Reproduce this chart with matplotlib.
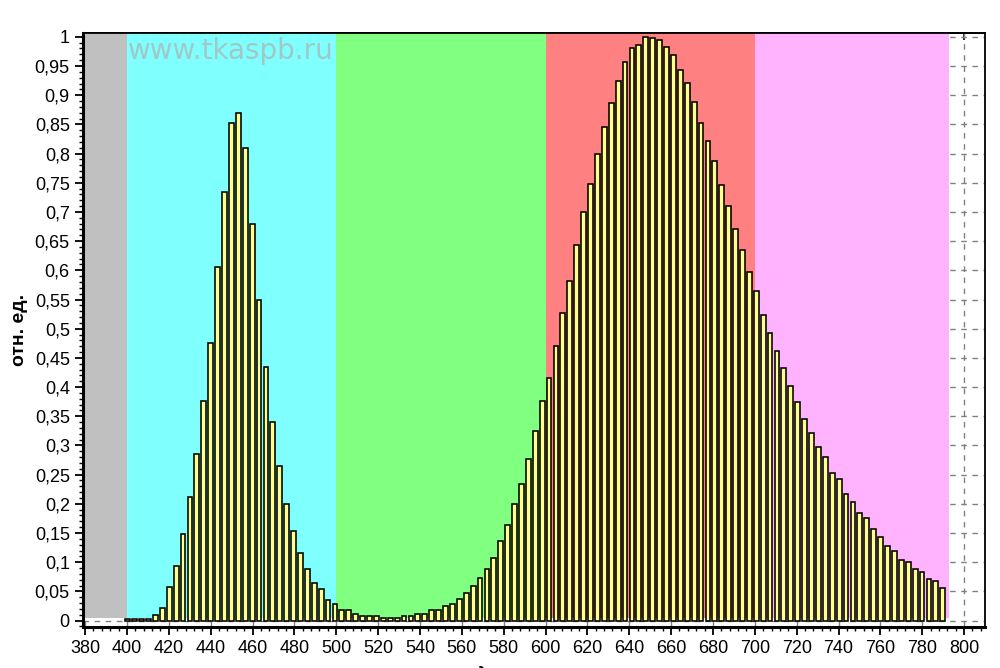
import matplotlib
matplotlib.use('Agg')
import matplotlib.pyplot as plt
from matplotlib.ticker import MultipleLocator, FuncFormatter, NullLocator

# wavelength of each bar, nm
wavelengths = [
    400.4, 403.7, 407.0, 410.3, 413.6, 416.9, 420.2, 423.5, 426.8, 430.1,
    433.4, 436.7, 440.0, 443.3, 446.6, 449.9, 453.2, 456.5, 459.8, 463.1,
    466.4, 469.7, 473.0, 476.3, 479.6, 482.9, 486.2, 489.5, 492.8, 496.1,
    499.4, 502.7, 506.0, 509.3, 512.6, 515.9, 519.2, 522.5, 525.8, 529.1,
    532.4, 535.7, 539.0, 542.3, 545.6, 548.9, 552.2, 555.5, 558.8, 562.1,
    565.4, 568.7, 572.0, 575.3, 578.6, 581.9, 585.2, 588.5, 591.8, 595.1,
    598.4, 601.7, 605.0, 608.3, 611.6, 614.9, 618.2, 621.5, 624.8, 628.1,
    631.4, 634.7, 638.0, 641.3, 644.6, 647.9, 651.2, 654.5, 657.8, 661.1,
    664.4, 667.7, 671.0, 674.3, 677.6, 680.9, 684.2, 687.5, 690.8, 694.1,
    697.4, 700.7, 704.0, 707.3, 710.6, 713.9, 717.2, 720.5, 723.8, 727.1,
    730.4, 733.7, 737.0, 740.3, 743.6, 746.9, 750.2, 753.5, 756.8, 760.1,
    763.4, 766.7, 770.0, 773.3, 776.6, 779.9, 783.2, 786.5, 789.8,
]

# relative intensity
intensity = [
    0.002, 0.002, 0.002, 0.003, 0.010, 0.022, 0.057, 0.093, 0.148, 0.212,
    0.286, 0.376, 0.476, 0.605, 0.734, 0.853, 0.870, 0.810, 0.679, 0.550,
    0.434, 0.340, 0.264, 0.199, 0.154, 0.116, 0.089, 0.064, 0.054, 0.035,
    0.028, 0.018, 0.018, 0.011, 0.007, 0.007, 0.007, 0.005, 0.005, 0.005,
    0.007, 0.007, 0.011, 0.011, 0.018, 0.018, 0.025, 0.029, 0.037, 0.047,
    0.060, 0.073, 0.088, 0.108, 0.137, 0.164, 0.199, 0.234, 0.276, 0.324,
    0.376, 0.416, 0.471, 0.527, 0.581, 0.644, 0.700, 0.748, 0.800, 0.845,
    0.886, 0.925, 0.957, 0.980, 0.986, 1.000, 0.998, 0.995, 0.983, 0.969,
    0.944, 0.921, 0.889, 0.853, 0.821, 0.787, 0.746, 0.711, 0.671, 0.635,
    0.597, 0.564, 0.524, 0.493, 0.461, 0.433, 0.401, 0.374, 0.345, 0.322,
    0.297, 0.280, 0.252, 0.243, 0.217, 0.203, 0.184, 0.175, 0.156, 0.143,
    0.127, 0.120, 0.104, 0.100, 0.089, 0.084, 0.072, 0.068, 0.056,
]

# colour bands: edges and colours
band_edges = [379, 400, 500, 600, 700, 792.8]
band_colors = ['#c0c0c0', '#80ffff', '#80ff80', '#ff8080', '#ffb3ff']

plt.rcParams['font.family'] = ['Liberation Sans', 'DejaVu Sans']

fig = plt.figure(figsize=(10, 6.68), dpi=100)
ax = fig.add_axes([0.083, 0.0614, 0.902, 0.8896])

ax.set_xlim(379, 810)
ax.set_ylim(-0.011, 1.007)

# dashed grid, lies under the colour bands
ax.set_axisbelow(True)
ax.grid(True, which='major', color='#808080', linestyle=(0, (4, 4)), linewidth=1.0)

for i, c in enumerate(band_colors):
    ax.fill_between([band_edges[i], band_edges[i + 1]], 0.004, 1.1,
                    color=c, linewidth=0, zorder=1)

ax.bar(wavelengths, intensity, width=2.3, color='#ffff8c',
       edgecolor='black', linewidth=1.15, zorder=2)

# watermark
ax.text(400.5, 0.975, 'www.tkaspb.ru', fontsize=20, color='#a0c8c8',
        family='DejaVu Sans', ha='left', va='center', zorder=1.5)

ax.xaxis.set_major_locator(MultipleLocator(20))
ax.xaxis.set_minor_locator(MultipleLocator(4))
ax.yaxis.set_major_locator(MultipleLocator(0.05))
ax.yaxis.set_minor_locator(MultipleLocator(0.01))
ax.yaxis.set_major_formatter(FuncFormatter(lambda v, p: f'{v:.2f}'.rstrip('0').rstrip('.').replace('.', ',')))

ax.tick_params(axis='both', which='major', labelsize=13, length=6, width=1.3, direction='out')
ax.tick_params(axis='both', which='minor', length=3, width=1.0, direction='out')

# top axis: short inward ticks every 20 nm
top = ax.secondary_xaxis('top')
top.xaxis.set_major_locator(MultipleLocator(20))
top.xaxis.set_minor_locator(NullLocator())
top.tick_params(axis='x', direction='in', length=5, width=1.2, labeltop=False)
top.spines['top'].set_linewidth(1.3)

for side in ['left', 'bottom']:
    ax.spines[side].set_linewidth(2.2)
for side in ['top', 'right']:
    ax.spines[side].set_linewidth(1.3)

ax.set_ylabel('отн. ед.', fontsize=14, fontweight='bold', labelpad=5)
# axis caption sits below the canvas edge, only its tip shows
fig.text(0.5, 0.0015, 'λ, нм', fontsize=13, fontweight='bold', ha='center', va='top')

fig.savefig('out.png', dpi=100)
